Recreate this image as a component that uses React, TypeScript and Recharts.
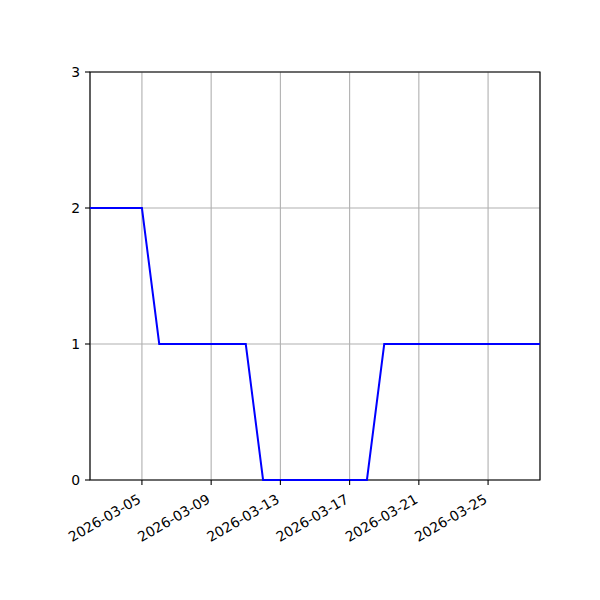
import React from "react";
import {
  LineChart,
  Line,
  XAxis,
  YAxis,
  CartesianGrid,
  ReferenceArea,
} from "recharts";

const dates = [
  "2026-03-02", "2026-03-03", "2026-03-04", "2026-03-05", "2026-03-06",
  "2026-03-07", "2026-03-08", "2026-03-09", "2026-03-10", "2026-03-11",
  "2026-03-12", "2026-03-13", "2026-03-14", "2026-03-15", "2026-03-16",
  "2026-03-17", "2026-03-18", "2026-03-19", "2026-03-20", "2026-03-21",
  "2026-03-22", "2026-03-23", "2026-03-24", "2026-03-25", "2026-03-26",
  "2026-03-27", "2026-03-28",
];
const values = [
  2, 2, 2, 2, 1, 1, 1, 1, 1, 1, 0, 0, 0, 0, 0, 0, 0, 1, 1, 1, 1, 1, 1, 1, 1,
  1, 1,
];
const xTickDates = [
  "2026-03-05", "2026-03-09", "2026-03-13", "2026-03-17", "2026-03-21",
  "2026-03-25",
];
const yTicks = [0, 1, 2, 3];

const data = dates.map((d, i) => ({ day: i, value: values[i] }));
const xTicks = xTickDates.map((d) => dates.indexOf(d));

const font = "DejaVu Sans, sans-serif";

const DateTick = (props: any) => {
  const { x, y, payload } = props;
  return (
    <text
      x={x}
      y={y + 12}
      textAnchor="end"
      fontFamily={font}
      fontSize={13.9}
      fill="#000"
      transform={`rotate(-30, ${x}, ${y + 12})`}
    >
      {dates[payload.value]}
    </text>
  );
};

const App = () => {
  return (
    <div style={{ position: "absolute", left: 0, top: 0 }}>
      <LineChart
        width={600}
        height={600}
        data={data}
        margin={{ top: 72, right: 60, bottom: 0, left: 0 }}
      >
        <CartesianGrid stroke="#b0b0b0" strokeWidth={1.1} />
        <XAxis
          dataKey="day"
          type="number"
          domain={[0, dates.length - 1]}
          ticks={xTicks}
          tick={<DateTick />}
          tickSize={5}
          tickMargin={5}
          height={120}
          axisLine={false}
          tickLine={{ stroke: "#000", strokeWidth: 1.1 }}
          interval={0}
        />
        <YAxis
          type="number"
          domain={[0, 3]}
          ticks={yTicks}
          width={90}
          tickSize={5}
          tickMargin={5}
          axisLine={false}
          tickLine={{ stroke: "#000", strokeWidth: 1.1 }}
          tick={{ fill: "#000", fontFamily: font, fontSize: 13.9 }}
          interval={0}
        />
        <Line
          type="linear"
          dataKey="value"
          stroke="#0000ff"
          strokeWidth={2}
          dot={false}
          isAnimationActive={false}
        />
        <ReferenceArea
          x1={0}
          x2={dates.length - 1}
          y1={0}
          y2={3}
          fill="none"
          stroke="#000"
          strokeWidth={1.1}
        />
      </LineChart>
    </div>
  );
};

export default App;
